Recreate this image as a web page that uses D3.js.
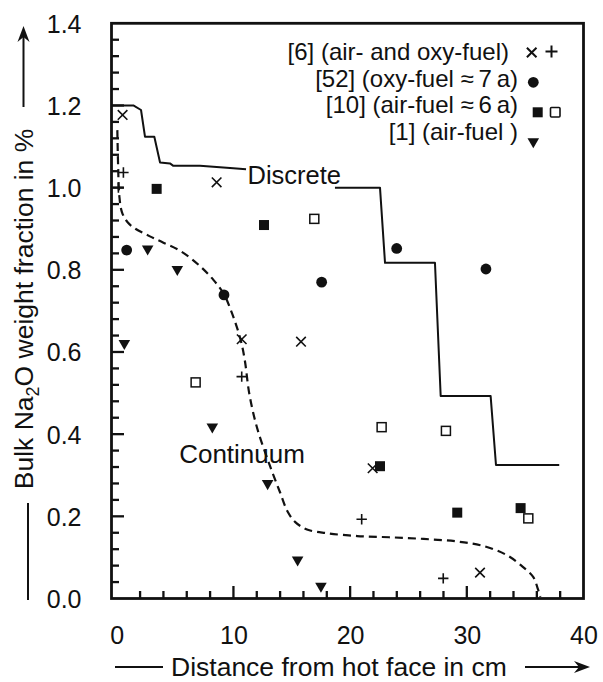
<!DOCTYPE html>
<html>
<head>
<meta charset="utf-8">
<script src="https://cdn.jsdelivr.net/npm/d3@7"></script>
<style>
  body { margin: 0; background: #fff; }
  svg text { font-family: "Liberation Sans", Arial, Helvetica, sans-serif; fill: #111; }
</style>
</head>
<body>
<svg id="chart" width="603" height="682"></svg>
<script>
// ---- Data: bulk Na2O weight fraction (%) vs distance from hot face (cm) ----
const xTickLabels = [0, 10, 20, 30, 40];
const yTickLabels = [0.0, 0.2, 0.4, 0.6, 0.8, 1.0, 1.2, 1.4];

// [6] air- and oxy-fuel, two marker kinds
const ref6Cross = [[0.50, 1.177], [8.56, 1.013], [10.71, 0.631], [15.79, 0.625], [21.93, 0.317], [31.13, 0.063]];
const ref6Plus  = [[0.57, 1.037], [0.14, 1.000], [10.71, 0.540], [20.99, 0.193], [27.98, 0.049]];
// [52] oxy-fuel ≈ 7 a
const ref52 = [[0.85, 0.848], [9.19, 0.739], [17.56, 0.770], [23.99, 0.852], [31.64, 0.802]];
// [10] air-fuel ≈ 6 a, filled and open squares
const ref10Filled = [[3.42, 0.997], [12.62, 0.909], [22.56, 0.322], [29.18, 0.209], [34.61, 0.220]];
const ref10Open   = [[6.76, 0.526], [16.93, 0.924], [22.70, 0.417], [28.21, 0.408], [35.27, 0.195]];
// [1] air-fuel
const ref1 = [[2.65, 0.851], [5.19, 0.801], [0.65, 0.621], [8.19, 0.418], [12.93, 0.280], [15.50, 0.094], [17.50, 0.030]];

// Discrete model (step profile), drawn in two pieces around its label
const discreteA = [[-0.45, 1.200], [1.42, 1.200], [2.08, 1.189], [2.42, 1.124], [3.22, 1.124], [3.71, 1.061],
                   [4.56, 1.059], [4.85, 1.053], [7.13, 1.053], [9.99, 1.047], [11.08, 1.045]];
const discreteB = [[18.70, 1.000], [22.56, 1.000], [22.99, 0.817], [27.27, 0.817], [27.76, 0.493],
                   [32.04, 0.493], [32.50, 0.325], [37.92, 0.325]];

// Continuum model (smooth profile)
const continuum = [[0.05, 1.14], [0.12, 1.05], [0.22, 0.98], [0.45, 0.94], [0.95, 0.915], [1.6, 0.90],
                   [2.8, 0.882], [4.0, 0.866], [5.5, 0.845], [7.1, 0.810], [8.3, 0.775], [9.2, 0.740],
                   [9.8, 0.700], [10.3, 0.660], [10.7, 0.620], [11.0, 0.575], [11.35, 0.500], [12.0, 0.418],
                   [13.1, 0.325], [14.0, 0.258], [14.65, 0.211], [15.3, 0.186], [16.3, 0.168], [18.0, 0.159],
                   [20.6, 0.152], [23.4, 0.149], [26.3, 0.145], [29.1, 0.139], [31.4, 0.128], [33.4, 0.106],
                   [34.8, 0.077], [35.7, 0.052], [36.1, 0.022], [36.3, 0.004]];

const legendLabels = [
  "[6] (air- and oxy-fuel)",
  "[52] (oxy-fuel \u2248\u20097\u2009a)",
  "[10] (air-fuel \u2248\u20096\u2009a)",
  "[1] (air-fuel )"
];
const yTitle = ["Bulk Na", "2", "O weight fraction in %"];
const xTitle = "Distance from hot face in cm";

// ---- Scales ----
const x = d3.scaleLinear().domain([-0.45, 40]).range([111.5, 583.5]);
const y = d3.scaleLinear().domain([0, 1.4]).range([598.5, 23.3]);

const svg = d3.select("#chart");
const FONT = "Liberation Sans, Arial, Helvetica, sans-serif";
const INK = "#111";

const x0 = x.range()[0], yb = y.range()[0];

// Plot frame
svg.append("rect")
  .attr("x", x0).attr("y", y.range()[1])
  .attr("width", x.range()[1] - x0).attr("height", yb - y.range()[1])
  .attr("fill", "none").attr("stroke", INK).attr("stroke-width", 2.8);

// ---- Tick marks (pointing into the plot) ----
const yMajor = [0.2, 0.4, 0.6, 0.8, 1.0, 1.2];
const yMinor = d3.range(1, 35).map(i => +(i * 0.04).toFixed(2))
  .filter(v => Math.abs(v / 0.2 - Math.round(v / 0.2)) > 1e-6);
const xMajor = [10, 20, 30];
const xMinor = d3.range(2, 40, 2).filter(v => v % 10 !== 0);

const tickG = svg.append("g").attr("stroke", INK).attr("stroke-width", 2.3);
tickG.selectAll(".ym").data(yMinor).join("line")
  .attr("x1", x0).attr("x2", x0 + 7.5).attr("y1", d => y(d)).attr("y2", d => y(d));
tickG.selectAll(".yM").data(yMajor).join("line")
  .attr("x1", x0).attr("x2", x0 + 12.5).attr("y1", d => y(d)).attr("y2", d => y(d));
tickG.selectAll(".xm").data(xMinor).join("line")
  .attr("x1", d => x(d)).attr("x2", d => x(d)).attr("y1", yb).attr("y2", yb - 7.5);
tickG.selectAll(".xM").data(xMajor).join("line")
  .attr("x1", d => x(d)).attr("x2", d => x(d)).attr("y1", yb).attr("y2", yb - 12.5);

// ---- Tick labels via d3 axes ----
function labelAxis(g) {
  g.select(".domain").remove();
  g.selectAll(".tick line").remove();
  g.attr("font-family", FONT).attr("font-size", 25);
  g.selectAll("text").attr("fill", INK);
}
svg.append("g").attr("transform", `translate(${x0},0)`)
  .call(d3.axisLeft(y).tickValues(yTickLabels).tickSize(0).tickPadding(30).tickFormat(d3.format(".1f")))
  .call(labelAxis)
  .call(g => g.selectAll("text").attr("dy", "0.36em"));
svg.append("g").attr("transform", `translate(0,${yb})`)
  .call(d3.axisBottom(x).tickValues(xTickLabels).tickSize(0).tickPadding(28).tickFormat(d3.format("d")))
  .call(labelAxis);

// ---- Model curves ----
const lineLin = d3.line().x(d => x(d[0])).y(d => y(d[1]));
const lineSmooth = d3.line().x(d => x(d[0])).y(d => y(d[1])).curve(d3.curveCatmullRom.alpha(0.5));

[discreteA, discreteB].forEach(seg => {
  svg.append("path").datum(seg).attr("d", lineLin)
    .attr("fill", "none").attr("stroke", INK).attr("stroke-width", 2).attr("stroke-linejoin", "round");
});
svg.append("path").datum(continuum).attr("d", lineSmooth)
  .attr("fill", "none").attr("stroke", INK).attr("stroke-width", 2.2).attr("stroke-dasharray", "8,5");

svg.append("text")
  .attr("x", x(discreteA[discreteA.length - 1][0]) + 1.5)
  .attr("y", y(discreteB[0][1]) - 4)
  .attr("font-size", 25.5).text("Discrete");
svg.append("text")
  .attr("x", x(5.35)).attr("y", y(0.33))
  .attr("font-size", 26).text("Continuum");

// ---- Markers ----
const markers = svg.append("g");
function crossPath(cx, cy, s) {
  return `M${cx - s},${cy - s}L${cx + s},${cy + s}M${cx - s},${cy + s}L${cx + s},${cy - s}`;
}
function plusPath(cx, cy, s) {
  return `M${cx - s},${cy}L${cx + s},${cy}M${cx},${cy - s}L${cx},${cy + s}`;
}
const triDown = d3.symbol().type(d3.symbolTriangle).size(58);

markers.selectAll(".cross").data(ref6Cross).join("path")
  .attr("d", d => crossPath(x(d[0]), y(d[1]), 4.8))
  .attr("stroke", INK).attr("stroke-width", 1.6).attr("fill", "none");
markers.selectAll(".plus").data(ref6Plus).join("path")
  .attr("d", d => plusPath(x(d[0]), y(d[1]), 5.2))
  .attr("stroke", INK).attr("stroke-width", 1.6).attr("fill", "none");
markers.selectAll(".dot").data(ref52).join("circle")
  .attr("cx", d => x(d[0])).attr("cy", d => y(d[1])).attr("r", 5.4).attr("fill", INK);
markers.selectAll(".sqf").data(ref10Filled).join("rect")
  .attr("x", d => x(d[0]) - 5).attr("y", d => y(d[1]) - 5).attr("width", 10).attr("height", 10).attr("fill", INK);
markers.selectAll(".sqo").data(ref10Open).join("rect")
  .attr("x", d => x(d[0]) - 4.5).attr("y", d => y(d[1]) - 4.5).attr("width", 9).attr("height", 9)
  .attr("fill", "#fff").attr("stroke", INK).attr("stroke-width", 1.5);
markers.selectAll(".tri").data(ref1).join("path")
  .attr("d", triDown)
  .attr("transform", d => `translate(${x(d[0])},${y(d[1])}) rotate(180)`)
  .attr("fill", INK);

// ---- Legend ----
const legend = svg.append("g").attr("font-size", 24);
const rowBase = [60, 86.7, 113.3, 140];
const rowRight = [509, 518, 518, 518];
legendLabels.forEach((t, i) => {
  legend.append("text").attr("x", rowRight[i]).attr("y", rowBase[i]).attr("text-anchor", "end").text(t);
});
legend.append("path").attr("d", crossPath(531.7, 52.5, 4.8)).attr("stroke", INK).attr("stroke-width", 2).attr("fill", "none");
legend.append("path").attr("d", plusPath(551.5, 51.5, 6)).attr("stroke", INK).attr("stroke-width", 2).attr("fill", "none");
legend.append("circle").attr("cx", 533.3).attr("cy", 82.3).attr("r", 5.4).attr("fill", INK);
legend.append("rect").attr("x", 532.7).attr("y", 107.3).attr("width", 10).attr("height", 10).attr("fill", INK);
legend.append("rect").attr("x", 550.5).attr("y", 107.5).attr("width", 9.5).attr("height", 9.5)
  .attr("fill", "#fff").attr("stroke", INK).attr("stroke-width", 1.6).attr("rx", 1);
legend.append("path").attr("d", triDown).attr("transform", "translate(533.3,141.5) rotate(180)").attr("fill", INK);

// ---- Axis titles with arrows ----
function arrowHead(tx, ty, angleDeg) {
  return svg.append("path")
    .attr("d", "M0,0L-16,-6L-11,0L-16,6Z")
    .attr("transform", `translate(${tx},${ty}) rotate(${angleDeg})`)
    .attr("fill", INK);
}
// vertical title
const yt = svg.append("text")
  .attr("transform", "translate(33,309) rotate(-90)")
  .attr("text-anchor", "middle").attr("font-size", 26.5);
yt.append("tspan").text(yTitle[0]);
yt.append("tspan").attr("dy", 6).attr("font-size", 18).text(yTitle[1]);
yt.append("tspan").attr("dy", -6).text(yTitle[2]);
svg.append("line").attr("x1", 28).attr("x2", 28).attr("y1", 503).attr("y2", 600)
  .attr("stroke", INK).attr("stroke-width", 2);
svg.append("line").attr("x1", 23.5).attr("x2", 23.5).attr("y1", 107).attr("y2", 34)
  .attr("stroke", INK).attr("stroke-width", 2);
arrowHead(23.5, 26, -90);

// horizontal title
svg.append("text").attr("x", 171).attr("y", 676).attr("font-size", 26.5).text(xTitle);
svg.append("line").attr("x1", 115).attr("x2", 163).attr("y1", 667).attr("y2", 667)
  .attr("stroke", INK).attr("stroke-width", 2);
svg.append("line").attr("x1", 525).attr("x2", 582).attr("y1", 667).attr("y2", 667)
  .attr("stroke", INK).attr("stroke-width", 2);
arrowHead(590, 667, 0);
</script>
</body>
</html>
